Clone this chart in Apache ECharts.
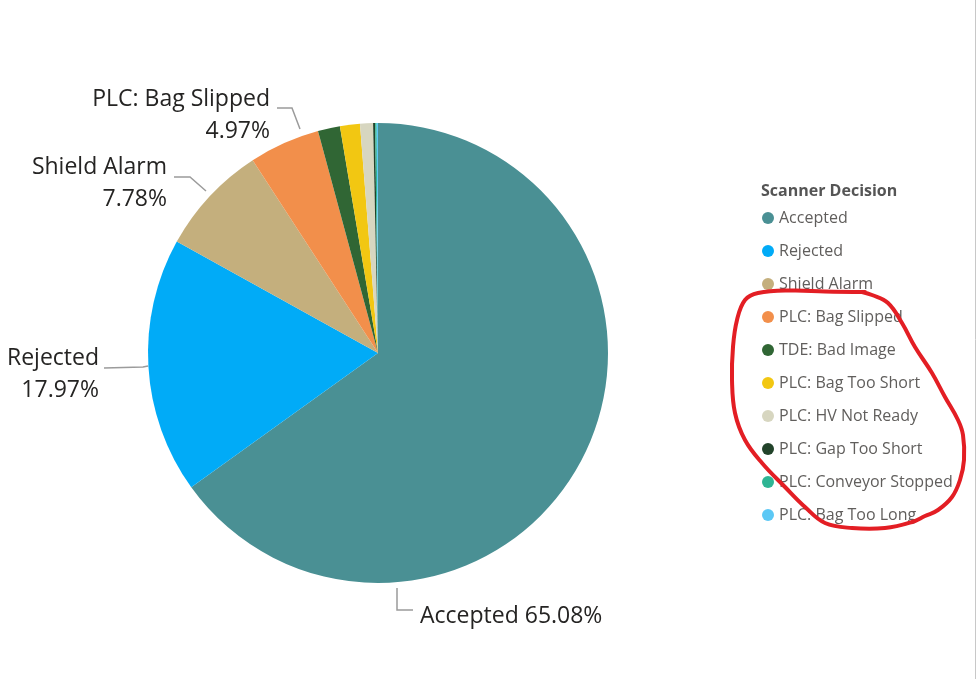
<!DOCTYPE html>
<html>
<head>
<meta charset="utf-8">
<script src="https://cdn.jsdelivr.net/npm/echarts@6/dist/echarts.min.js"></script>
<style>
html,body{margin:0;padding:0;background:#fff;}
#chart{width:976px;height:679px;}
</style>
</head>
<body>
<div id="chart"></div>
<script>
// ---- data ----
var categories = ['Accepted','Rejected','Shield Alarm','PLC: Bag Slipped','TDE: Bad Image','PLC: Bag Too Short','PLC: HV Not Ready','PLC: Gap Too Short','PLC: Conveyor Stopped','PLC: Bag Too Long'];
var shares = [65.08, 17.97, 7.78, 4.97, 1.55, 1.40, 0.91, 0.14, 0.11, 0.09];
var colors = ['#4A9094','#01ABF7','#C4AF7D','#F28F4B','#306634','#F2C712','#D7D6C0','#22432A','#2EB594','#5CC8F5'];
var labelled = ['Accepted','Rejected','Shield Alarm','PLC: Bag Slipped'];
var legendTitle = 'Scanner Decision';

// ---- layout of the outside labels (style, not data) ----
var labelPlace = {
  'Accepted':        {x:420, y:616, align:'left',  line:[[397,588],[397,610],[413,610]]},
  'Rejected':        {x:99,  y:374, align:'right', line:[[148,366],[143,367],[104,368]]},
  'Shield Alarm':    {x:167, y:183, align:'right', line:[[206,191],[190,177],[174,177]]},
  'PLC: Bag Slipped':{x:270, y:115, align:'right', line:[[300,129],[292,108],[277,108]]}
};

var font = '"Segoe UI","Open Sans","Noto Sans",sans-serif';
var chart = echarts.init(document.getElementById('chart'));

var pieData = categories.map(function(c,i){
  var show = labelled.indexOf(c) >= 0;
  return {
    name: c, value: shares[i],
    itemStyle: {color: colors[i]},
    label: {show: show},
    labelLine: {show: show}
  };
});

chart.setOption({
  animation: false,
  title: {
    text: legendTitle, left: 756, top: 178,
    textStyle: {fontFamily: font, fontSize: 16, fontWeight: 'bold', color: '#555'}
  },
  legend: {
    orient: 'vertical', left: 757, top: 205,
    icon: 'circle', itemWidth: 12, itemHeight: 12, itemGap: 17,
    data: categories,
    textStyle: {fontFamily: font, fontSize: 16, color: '#605E5C', padding: [0,0,0,0]},
    selectedMode: false
  },
  series: [{
    type: 'pie',
    center: [378, 353],
    radius: 230,
    startAngle: 90,
    clockwise: true,
    avoidLabelOverlap: false,
    silent: true,
    data: pieData,
    label: {
      fontFamily: font, fontSize: 23, color: '#252423', lineHeight: 32,
      formatter: function(p){
        var pct = p.value.toFixed(2) + '%';
        return p.name === 'Accepted' ? p.name + ' ' + pct : p.name + '\n' + pct;
      }
    },
    labelLine: {lineStyle: {color: '#9B9B9B', width: 1.5}},
    labelLayout: function(params){
      var name = categories[params.dataIndex];
      var pl = labelPlace[name];
      if (!pl) return {};
      return {x: pl.x, y: pl.y, align: pl.align, verticalAlign: 'middle', labelLinePoints: pl.line};
    }
  }],
  graphic: [
    {type: 'line', shape: {x1: 975.5, y1: 0, x2: 975.5, y2: 679}, style: {stroke: '#C8C8C8', lineWidth: 1}, silent: true},
    {type: 'polyline', silent: true, z: 100,
     shape: {smooth: 0.4, points: [[862,292],[872,295],[888,303],[902,323],[915,347],[932,373],[945,397],[958,420],[963,435],[964,460],[960,480],[952,497],[938,510],[925,516],[912,522],[885,528],[852,528],[825,523],[805,507],[785,487],[762,463],[745,440],[735,413],[732,380],[733,347],[737,320],[745,300],[758,293],[792,290.5],[825,291.5],[865,292]]},
     style: {stroke: '#E31E24', lineWidth: 4, fill: null, lineCap: 'round', lineJoin: 'round'}}
  ]
});
</script>
</body>
</html>
